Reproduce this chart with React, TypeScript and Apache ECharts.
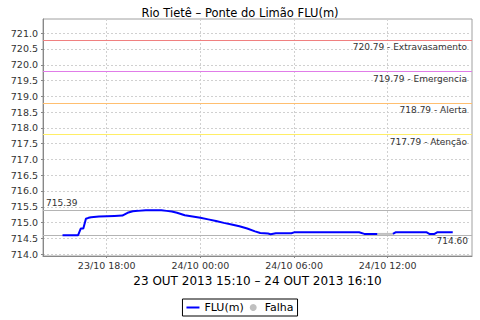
import React, { useEffect, useRef } from 'react';
import * as echarts from 'echarts';

const TITLE = 'Rio Tietê – Ponte do Limão FLU(m)';
const PERIOD = '23 OUT 2013 15:10 – 24 OUT 2013 16:10';
const FONT = 'DejaVu Sans';

const floodTimes = [
  '23/10 15:10', '23/10 15:30', '23/10 16:00', '23/10 16:10', '23/10 16:20', '23/10 16:30',
  '23/10 16:40', '23/10 16:50', '23/10 17:00', '23/10 17:30', '23/10 18:00', '23/10 18:30',
  '23/10 19:00', '23/10 19:20', '23/10 19:40', '23/10 20:00', '23/10 20:30', '23/10 21:00',
  '23/10 21:30', '23/10 21:50', '23/10 22:10', '23/10 22:30', '23/10 23:00', '23/10 23:30',
  '24/10 00:00', '24/10 00:30', '24/10 01:00', '24/10 01:30', '24/10 02:00', '24/10 02:30',
  '24/10 03:00', '24/10 03:30', '24/10 03:50', '24/10 04:20', '24/10 04:30', '24/10 04:50',
  '24/10 05:50', '24/10 06:00', '24/10 07:00', '24/10 08:00', '24/10 09:00', '24/10 10:00',
  '24/10 10:10', '24/10 10:30', '24/10 11:00', '24/10 11:20', '24/10 11:50', '24/10 12:20',
  '24/10 12:30', '24/10 13:30', '24/10 14:30', '24/10 14:40', '24/10 15:00', '24/10 15:10',
  '24/10 16:10',
];
const floodLevels: (number | null)[] = [
  714.60, 714.60, 714.60, 714.60, 714.81, 714.81,
  715.12, 715.15, 715.17, 715.19, 715.20, 715.21,
  715.22, 715.31, 715.36, 715.37, 715.39, 715.39,
  715.39, 715.37, 715.35, 715.31, 715.23, 715.19,
  715.15, 715.10, 715.05, 714.99, 714.94, 714.88,
  714.81, 714.72, 714.67, 714.65, 714.63, 714.66,
  714.66, 714.69, 714.69, 714.69, 714.69, 714.69,
  714.69, 714.64, 714.64, 714.64, null, 714.64,
  714.69, 714.69, 714.69, 714.64, 714.64, 714.69,
  714.69,
];
const falhaTimes = ['24/10 11:20', '24/10 12:20'];
const falhaLevels = [714.64, 714.64];

const thresholdValues = [720.79, 719.79, 718.79, 717.79];
const thresholdNames = ['Extravasamento', 'Emergencia', 'Alerta', 'Atenção'];
const thresholdColors = ['#f08080', '#e07ce8', '#ffbf70', '#ffee66'];

const yTickValues = [714.0, 714.5, 715.0, 715.5, 716.0, 716.5, 717.0, 717.5, 718.0, 718.5, 719.0, 719.5, 720.0, 720.5, 721.0];
const yRange = [713.94, 721.45];
const xTickLabels = ['23/10 18:00', '24/10 00:00', '24/10 06:00', '24/10 12:00'];
const xRange = ['23/10 13:55', '24/10 17:24'];

function toMs(s: string): number {
  const [d, t] = s.split(' ');
  const [dd, mo] = d.split('/').map(Number);
  const [hh, mm] = t.split(':').map(Number);
  return Date.UTC(2013, mo - 1, dd, hh, mm);
}
const pad = (n: number) => (n < 10 ? '0' + n : '' + n);
function fmt(ms: number): string {
  const d = new Date(ms);
  return `${pad(d.getUTCDate())}/${pad(d.getUTCMonth() + 1)} ${pad(d.getUTCHours())}:${pad(d.getUTCMinutes())}`;
}

export default function App() {
  const ref = useRef<HTMLDivElement>(null);
  useEffect(() => {
    if (!ref.current) return;
    const chart = echarts.init(ref.current, null, { renderer: 'svg' });
    const valid = floodLevels.filter((v) => v !== null) as number[];
    const maxLevel = Math.max(...valid);
    const minLevel = Math.min(...valid);
    const lblStyle = { fontSize: 9, color: '#333', fontFamily: FONT };

    const refLine = (key: string, value: number, color: string, label: any) => ({
      name: key,
      type: 'line',
      data: [],
      color,
      z: 1,
      markLine: {
        silent: true,
        symbol: ['none', 'none'],
        emphasis: { disabled: true },
        lineStyle: { color, width: 1, type: 'solid', opacity: 1 },
        label: { show: true, ...lblStyle, ...label },
        data: [{ yAxis: value }],
      },
    });

    const thresholdSeries = thresholdValues.map((v, i) =>
      refLine(`limite${i}`, v, thresholdColors[i], {
        position: 'insideEndBottom',
        formatter: `${v.toFixed(2)} - ${thresholdNames[i]}`,
        distance: [5, 3],
      })
    );
    const maxSeries = refLine('maximo', maxLevel, '#b4b4b4', {
      position: 'insideStartTop',
      formatter: maxLevel.toFixed(2),
      distance: [3, 3],
    });
    const minSeries = refLine('minimo', minLevel, '#b4b4b4', {
      position: 'insideEndBottom',
      formatter: minLevel.toFixed(2),
      distance: [4, 1],
    });

    const xTicks = xTickLabels.map((s) => toMs(s));
    chart.setOption({
      animation: false,
      backgroundColor: '#fff',
      textStyle: { fontFamily: FONT },
      title: {
        text: TITLE,
        left: 'center',
        top: 2,
        textStyle: { fontSize: 11.5, fontWeight: 'normal', color: '#000', fontFamily: FONT },
      },
      legend: {
        bottom: 4,
        left: 'center',
        borderColor: '#000',
        borderWidth: 1,
        borderRadius: 0,
        padding: [3, 4, 3, 4],
        itemGap: 6,
        itemWidth: 13,
        itemHeight: 7,
        textStyle: { fontSize: 11, color: '#000', fontFamily: FONT },
        data: [
          { name: 'FLU(m)', icon: 'path://M0,0H13V2H0Z' },
          { name: 'Falha', icon: 'circle' },
        ],
      },
      grid: {
        left: 43,
        top: 19,
        width: 429,
        height: 237,
        show: true,
        borderColor: '#a0a0a0',
        borderWidth: 1,
        backgroundColor: '#fff',
      },
      xAxis: {
        type: 'value',
        min: toMs(xRange[0]),
        max: toMs(xRange[1]),
        name: PERIOD,
        nameLocation: 'middle',
        nameGap: 19,
        nameTextStyle: { fontSize: 12, color: '#000', fontFamily: FONT },
        axisLine: { show: true, lineStyle: { color: '#888' } },
        axisTick: { show: true, length: 2, customValues: xTicks, lineStyle: { color: '#888' } },
        axisLabel: {
          customValues: xTicks,
          formatter: (v: number) => fmt(v),
          fontSize: 9.5,
          color: '#333',
          margin: 4,
        },
        splitLine: { show: true, lineStyle: { color: '#d0d0d0', type: [2, 2] } },
      },
      yAxis: {
        type: 'value',
        min: yRange[0],
        max: yRange[1],
        axisLine: { show: true, lineStyle: { color: '#888' } },
        axisTick: { show: true, length: 2, customValues: yTickValues, lineStyle: { color: '#888' } },
        axisLabel: {
          customValues: yTickValues,
          formatter: (v: number) => v.toFixed(1),
          fontSize: 9.5,
          color: '#333',
          margin: 5,
        },
        splitLine: { show: true, lineStyle: { color: '#d0d0d0', type: [2, 2] } },
      },
      series: [
        ...thresholdSeries,
        maxSeries,
        minSeries,
        {
          name: 'Falha',
          type: 'line',
          symbol: 'none',
          color: '#c0c0c0',
          lineStyle: { color: '#c0c0c0', width: 2 },
          data: falhaTimes.map((t, i) => [toMs(t), falhaLevels[i]]),
          z: 2,
        },
        {
          name: 'FLU(m)',
          type: 'line',
          symbol: 'none',
          connectNulls: false,
          color: '#0000ff',
          lineStyle: { color: '#0000ff', width: 2 },
          data: floodTimes.map((t, i) => [toMs(t), floodLevels[i]]),
          z: 5,
        },
      ],
    });
    return () => chart.dispose();
  }, []);
  return <div ref={ref} style={{ position: 'fixed', left: 0, top: 0, width: 480, height: 320 }} />;
}
